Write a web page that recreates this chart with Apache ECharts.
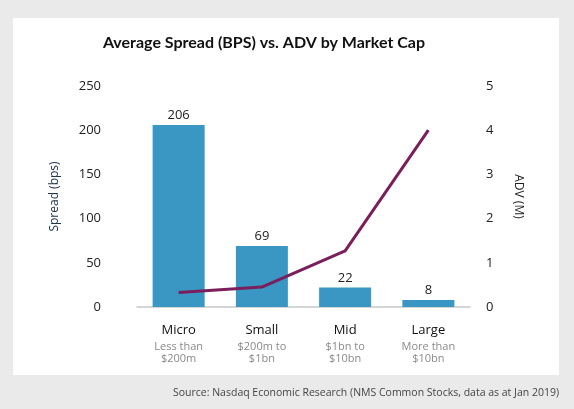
<!DOCTYPE html>
<html>
<head>
<meta charset="utf-8">
<script src="https://cdn.jsdelivr.net/npm/echarts@6/dist/echarts.min.js"></script>
<style>
  html, body { margin: 0; padding: 0; background: #e9eae9; }
  #chart { width: 574px; height: 409px; }
</style>
</head>
<body>
<div id="chart"></div>
<script>
let categories = ['Micro', 'Small', 'Mid', 'Large'];
let subLabels = ['Less than\n$200m', '$200m to\n$1bn', '$1bn to\n$10bn', 'More than\n$10bn'];
let spreadBps = [206, 69, 22, 8];
let advMillions = [0.33, 0.45, 1.27, 4.0];

let fontName = 'Open Sans';

let option = {
    backgroundColor: '#e9eae9',
    animation: false,
    textStyle: { fontFamily: fontName },
    graphic: [{
        type: 'rect',
        shape: { x: 13, y: 18, width: 546, height: 357 },
        style: { fill: '#ffffff' },
        z: -10
    }, {
        type: 'text',
        x: 264,
        y: 43,
        style: {
            text: 'Average Spread (BPS) vs. ADV by Market Cap',
            font: 'bold 16px Lato',
            fill: '#111',
            align: 'center',
            verticalAlign: 'middle'
        }
    }, {
        type: 'text',
        x: 559,
        y: 393,
        style: {
            text: 'Source: Nasdaq Economic Research (NMS Common Stocks, data as at Jan 2019)',
            font: '10.5px "Open Sans"',
            fill: '#444',
            align: 'right',
            verticalAlign: 'middle'
        }
    }],
    grid: {
        left: 137,
        right: 104,
        top: 86,
        bottom: 102
    },
    xAxis: {
        type: 'category',
        data: categories,
        axisLine: { lineStyle: { color: '#c8c8c8', width: 1.5 } },
        axisTick: { show: false },
        axisLabel: {
            interval: 0,
            margin: 13,
            lineHeight: 12,
            formatter: function (v, i) {
                return '{main|' + v + '}\n{sub|' + subLabels[i].replace('\n', '}\n{sub|') + '}';
            },
            rich: {
                main: { fontSize: 13, color: '#111', lineHeight: 21, fontFamily: fontName },
                sub: { fontSize: 11, color: '#8a8a8a', lineHeight: 12, fontFamily: fontName }
            }
        }
    },
    yAxis: [{
        type: 'value',
        min: 0,
        max: 250,
        interval: 50,
        name: 'Spread (bps)',
        nameLocation: 'middle',
        nameGap: 76,
        nameRotate: 90,
        nameTextStyle: { color: '#22344f', fontSize: 12, fontFamily: fontName },
        splitLine: { show: false },
        axisLine: { show: false },
        axisTick: { show: false },
        axisLabel: { color: '#222', fontSize: 13, margin: 36 }
    }, {
        type: 'value',
        min: 0,
        max: 5,
        interval: 1,
        name: 'ADV (M)',
        nameLocation: 'middle',
        nameGap: 42,
        nameRotate: -90,
        nameTextStyle: { color: '#222', fontSize: 12, fontFamily: fontName },
        splitLine: { show: false },
        axisLine: { show: false },
        axisTick: { show: false },
        axisLabel: { color: '#222', fontSize: 13, margin: 16 }
    }],
    series: [{
        type: 'bar',
        data: spreadBps,
        barWidth: 52,
        itemStyle: { color: '#3a96c2' },
        label: {
            show: true,
            position: 'top',
            distance: 3,
            color: '#222',
            fontSize: 13
        }
    }, {
        type: 'line',
        yAxisIndex: 1,
        data: advMillions,
        symbol: 'none',
        lineStyle: { color: '#7a1f5c', width: 3 }
    }]
};

echarts.init(document.getElementById('chart')).setOption(option);
</script>
</body>
</html>
